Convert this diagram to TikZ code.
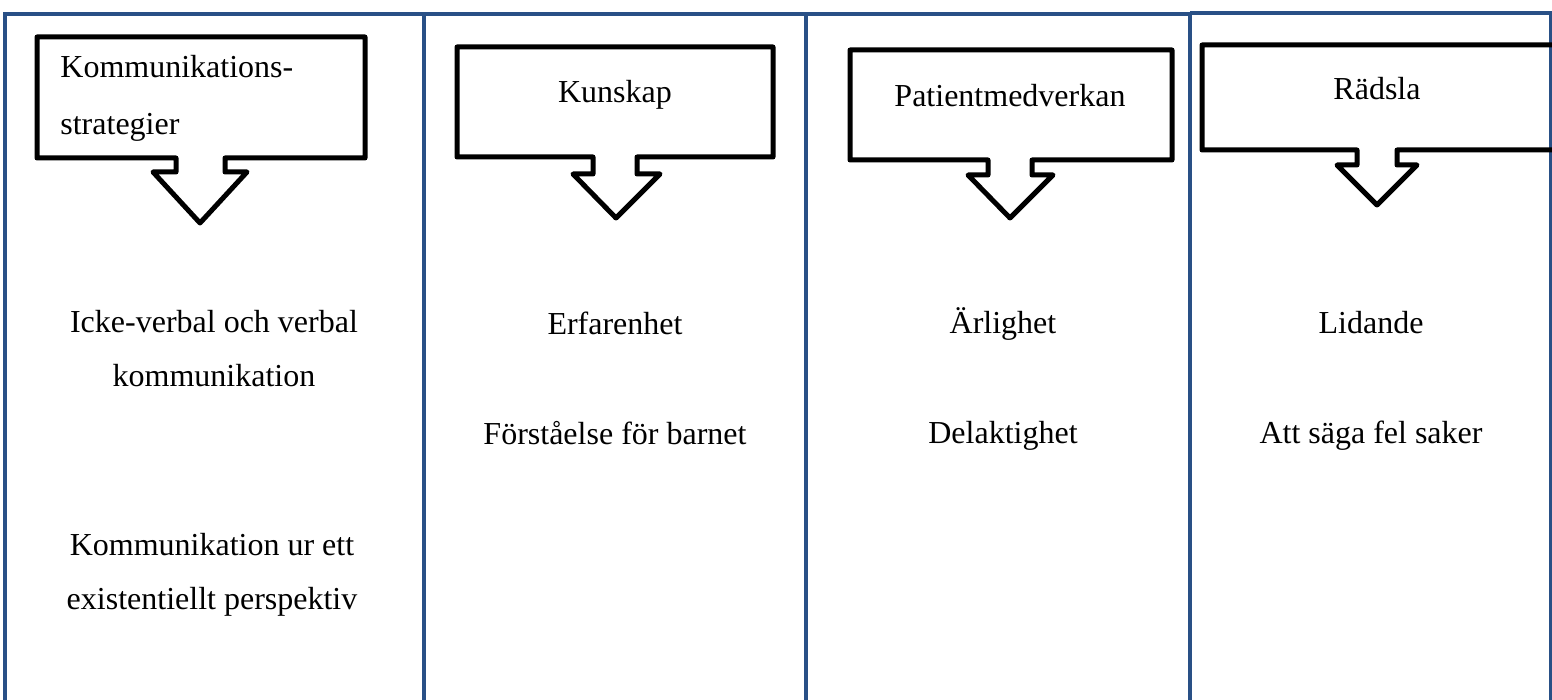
\documentclass[tikz,border=0pt]{standalone}
\usepackage{fontspec}
\setmainfont{Liberation Serif}
\usepackage{xcolor}
\usetikzlibrary{positioning}
\definecolor{panelblue}{RGB}{41,80,134}

\begin{document}
\begin{tikzpicture}[
  x=0.5pt, y=-0.5pt,
  panel/.style={draw=panelblue,line width=2.4pt},
  callout/.style={draw=black,line width=2.5pt,line join=round},
  head/.style={font=\fontsize{16}{28.5}\selectfont,inner sep=0pt,anchor=base},
  item/.style={font=\fontsize{16}{27}\selectfont,inner sep=0pt,align=center,anchor=base}
]
\useasboundingbox (0,0) rectangle (1552,700);

% columns
\draw[panel] (5,700) -- (5,14) -- (424,14) -- (424,700);
\draw[panel] (424,14) -- (806,14) -- (806,700);
\draw[panel] (806,14) -- (1190,14) -- (1190,700);
\draw[panel] (1190,13) -- (1551,13) -- (1551,700);

% callouts
\draw[callout] (37,37) -- (365,37) -- (365,158) -- (225,158) -- (225,172) -- (247,172)
  -- (200,223) -- (153,172) -- (176,172) -- (176,158) -- (37,158) -- cycle;
\draw[callout] (457,47) -- (773,47) -- (773,157) -- (637,157) -- (637,174) -- (660,174)
  -- (616,218) -- (573,174) -- (593,174) -- (593,157) -- (457,157) -- cycle;
\draw[callout] (850,50) -- (1172,50) -- (1172,160) -- (1032,160) -- (1032,175) -- (1053,175)
  -- (1010,218) -- (968,175) -- (988,175) -- (988,160) -- (850,160) -- cycle;
\draw[callout] (1202,45) -- (1580,45) -- (1580,150) -- (1397,150) -- (1397,165) -- (1417,165)
  -- (1377,205) -- (1337,165) -- (1357,165) -- (1357,150) -- (1202,150) -- cycle;

% base of a two-line node is its last line
\node[head, anchor=base west, align=left] (komm) at (60,135) {Kommunikations-\\strategier};
\node[head] (kunskap) at (615,103) {Kunskap};
\node[head] (patient) at (1010,107) {Patientmedverkan};
\node[head] (radsla) at (1377,100) {Rädsla};

\node[item] (icke) at (214,386) {Icke-verbal och verbal\\kommunikation};
\node[item] (exist) at (212,609) {Kommunikation ur ett\\existentiellt perspektiv};

\node[item] (erf) at (615,334) {Erfarenhet};
\node[item, below=55pt of erf.base, anchor=base] (forst) {Förståelse för barnet};

\node[item] (arl) at (1003,333) {Ärlighet};
\node[item, below=55pt of arl.base, anchor=base] (delakt) {Delaktighet};

\node[item] (lid) at (1371,333) {Lidande};
\node[item, below=55pt of lid.base, anchor=base] (saga) {Att säga fel saker};
\end{tikzpicture}
\end{document}
